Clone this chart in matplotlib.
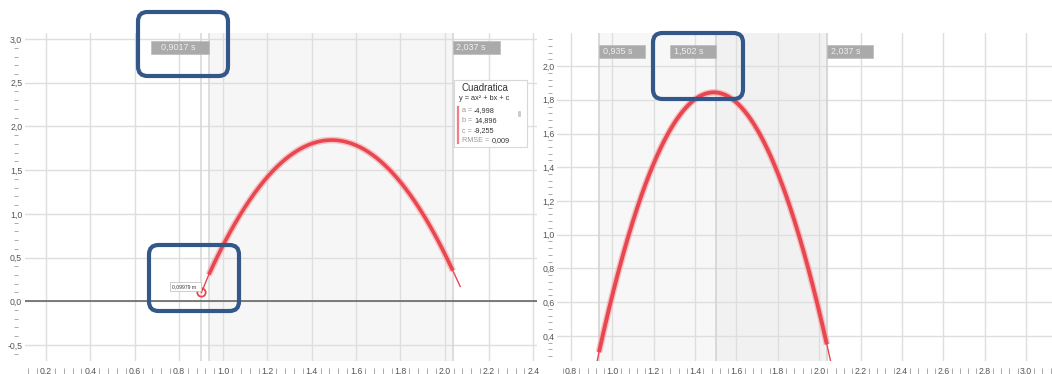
import numpy as np
import matplotlib
matplotlib.use("Agg")
import matplotlib.pyplot as plt
from matplotlib.patches import Rectangle, FancyBboxPatch
import matplotlib.transforms as mtransforms

plt.rcParams['font.family'] = ['Liberation Sans', 'DejaVu Sans']

# ---------------- data ----------------
fit_a = -4.998
fit_b = 14.896
fit_c = -9.255
fit_rmse = 0.009
fit_coeffs = [fit_a, fit_b, fit_c]

t_marker = 0.9017          # s, cursor on left panel
h_marker = 0.09979         # m, value at cursor
t_fit_start = 0.935        # s
t_peak = 1.502             # s
t_fit_end = 2.037          # s
t_data_end = 2.07          # s, last raw sample (read)
h_data_end = 0.17          # m (read)

left_xticks = [0.2, 0.4, 0.6, 0.8, 1.0, 1.2, 1.4, 1.6, 1.8, 2.0, 2.2, 2.4]
left_yticks = [-0.5, 0.0, 0.5, 1.0, 1.5, 2.0, 2.5, 3.0]
right_xticks = [0.8, 1.0, 1.2, 1.4, 1.6, 1.8, 2.0, 2.2, 2.4, 2.6, 2.8, 3.0]
right_yticks = [0.4, 0.6, 0.8, 1.0, 1.2, 1.4, 1.6, 1.8, 2.0]

left_cursor_labels = ["0,9017 s", "2,037 s"]
right_cursor_labels = ["0,935 s", "1,502 s", "2,037 s"]

# ---------------- figure ----------------
W, H = 1052, 374
fig = plt.figure(figsize=(W / 100, H / 100), dpi=100)


def fx(px):
    return px / W


def fy(py):
    return 1 - py / H


GRID = '#dedede'
TXT = '#555555'
RED = '#e9474f'
RED_GLOW = '#f5a0a5'


def fmt(v, nd=1):
    return f"{v:.{nd}f}".replace('.', ',')


def style_axes(ax, xt, yt, ylab_pad, minor_x_step, minor_y_step):
    for s in ax.spines.values():
        s.set_visible(False)
    ax.set_xticks(xt)
    ax.set_yticks(yt)
    ax.set_xticklabels([fmt(v) for v in xt])
    ax.set_yticklabels([fmt(v) for v in yt])
    ax.tick_params(axis='both', length=0, labelsize=6.3, labelcolor=TXT)
    ax.tick_params(axis='x', pad=4)
    ax.tick_params(axis='y', pad=ylab_pad)
    for v in xt:
        ax.axvline(v, color=GRID, lw=1.0, zorder=1)
    for v in yt:
        ax.axhline(v, color=GRID, lw=1.0, zorder=1)
    # minor x marks in label row
    x0, x1 = ax.get_xlim()
    bt = mtransforms.blended_transform_factory(ax.transData, ax.transAxes)
    xs = np.arange(np.ceil(x0 / minor_x_step) * minor_x_step, x1, minor_x_step)
    xs = [v for v in xs if min(abs(v - t) for t in xt) > 1e-6]
    ax.plot(xs, [-0.031] * len(xs), ls='none', marker='|', ms=4.5, mew=0.7,
            color='#a8a8a8', transform=bt, clip_on=False)
    # minor y dashes in label column
    y0, y1 = ax.get_ylim()
    ys = np.arange(np.ceil(y0 / minor_y_step) * minor_y_step, y1, minor_y_step)
    ys = [v for v in ys if min(abs(v - t) for t in yt) > 1e-6]
    return xs, ys


# ---------------- left panel ----------------
axL = fig.add_axes([fx(25), fy(361), fx(537) - fx(25), fy(33) - fy(361)])
axL.set_xlim(0.105, 2.417)
axL.set_ylim(-0.684, 3.069)
axL.set_facecolor('white')
_, ysL = style_axes(axL, left_xticks, left_yticks, 2.0, 0.04, 0.1)
btL = mtransforms.blended_transform_factory(axL.transAxes, axL.transData)
axL.plot([-0.017] * len(ysL), ysL, ls='none', marker='_', ms=3.5, mew=0.7,
         color='#aaaaaa', transform=btL, clip_on=False)

axL.axvspan(t_fit_start, t_fit_end, color='#f6f6f6', zorder=0)
axL.axhline(0, color='#666666', lw=1.2, zorder=2)
for t in (t_marker, t_fit_start, t_fit_end):
    axL.axvline(t, color='#d6d6d6', lw=1.1, zorder=1.5)

xf = np.linspace(t_fit_start, t_fit_end, 300)
yf = np.polyval(fit_coeffs, xf)
axL.plot(xf, yf, color=RED_GLOW, lw=4.8, alpha=0.6, zorder=3, solid_capstyle='butt')
axL.plot(xf, yf, color=RED, lw=2.6, zorder=4, solid_capstyle='butt')
axL.plot([t_marker, xf[0]], [h_marker, yf[0]], color=RED, lw=1.0, zorder=4)
axL.plot([xf[-1], t_data_end], [yf[-1], h_data_end], color=RED, lw=1.0, zorder=4)
axL.plot([t_marker], [h_marker], marker='o', ms=6, mfc='none', mec=RED, mew=1.3, zorder=5)

# cursor label boxes (left)
btL2 = mtransforms.blended_transform_factory(axL.transData, axL.transAxes)
pxL = 221.5
boxh = 13 / 328
axL.add_patch(Rectangle((t_fit_start - 58 / pxL, 1 - 21 / 328), 58 / pxL, boxh,
                        transform=btL2, facecolor='#aaaaaa', edgecolor='#bbbbbb',
                        lw=0.5, zorder=6, clip_on=False))
axL.text(t_fit_start - 48 / pxL, 1 - 14.5 / 328, left_cursor_labels[0], transform=btL2,
         fontsize=6.5, color='#eeeeee', va='center', ha='left', zorder=7)
axL.add_patch(Rectangle((t_fit_end, 1 - 21 / 328), 47 / pxL, boxh,
                        transform=btL2, facecolor='#aaaaaa', edgecolor='#bbbbbb',
                        lw=0.5, zorder=6, clip_on=False))
axL.text(t_fit_end + 3 / pxL, 1 - 14.5 / 328, left_cursor_labels[1], transform=btL2,
         fontsize=6.5, color='#eeeeee', va='center', ha='left', zorder=7)

# marker value label
fig.patches.append(Rectangle((fx(170), fy(291)), fx(201) - fx(170), fy(282) - fy(291),
                             transform=fig.transFigure, facecolor='white',
                             edgecolor='#bbbbbb', lw=0.5, zorder=8))
fig.text(fx(172), fy(286.5), f"{h_marker:.5f} m".replace('.', ','), fontsize=3.6,
         color='#333333', va='center', ha='left', zorder=9)

# ---------------- legend box (left) ----------------
fig.patches.append(Rectangle((fx(454), fy(147)), fx(527) - fx(454), fy(80) - fy(147),
                             transform=fig.transFigure, facecolor='white',
                             edgecolor='#d8d8d8', lw=0.8, zorder=8))
fig.text(fx(461), fy(88), "Cuadratica", fontsize=7.0, color='#333333',
         va='center', ha='left', zorder=9)
fig.text(fx(459), fy(98.5), "y = ax² + bx + c", fontsize=5.3, color='#333333',
         va='center', ha='left', zorder=9)
fig.lines.append(plt.Line2D([fx(458), fx(458)], [fy(107), fy(143)], color='#ef7f86',
                            lw=1.6, transform=fig.transFigure, zorder=9))
rows = [("a = ", fmt(fit_a, 3)), ("b = ", fmt(fit_b, 3)), ("c = ", fmt(fit_c, 3)),
        ("RMSE = ", fmt(fit_rmse, 3))]
row_y = [111, 121, 131, 141]
row_vx = [474, 474, 474, 492]
for (lab, val), yy, vx in zip(rows, row_y, row_vx):
    fig.text(fx(462), fy(yy), lab, fontsize=5.2, color='#999999', va='center',
             ha='left', zorder=9)
    fig.text(fx(vx), fy(yy), val, fontsize=5.2, color='#333333', va='center',
             ha='left', zorder=9)
fig.patches.append(FancyBboxPatch((fx(518), fy(117)), fx(3), fy(111) - fy(117),
                                  boxstyle="round,pad=0,rounding_size=0.002",
                                  transform=fig.transFigure, facecolor='#cccccc',
                                  edgecolor='none', zorder=9))

# ---------------- right panel ----------------
axR = fig.add_axes([fx(557), fy(361), fx(1052) - fx(557), fy(33) - fy(361)])
axR.set_xlim(0.732, 3.126)
axR.set_ylim(0.251, 2.196)
_, ysR = style_axes(axR, right_xticks, right_yticks, 1.5, 0.04, 0.04)
btR = mtransforms.blended_transform_factory(axR.transAxes, axR.transData)
axR.plot([-0.014] * len(ysR), ysR, ls='none', marker='_', ms=3.5, mew=0.7,
         color='#aaaaaa', transform=btR, clip_on=False)

axR.axvspan(t_fit_start, t_peak, color='#f7f7f7', zorder=0)
axR.axvspan(t_peak, t_fit_end, color='#f1f1f1', zorder=0)
for t in (t_fit_start, t_peak, t_fit_end):
    axR.axvline(t, color='#d4d4d4', lw=1.2, zorder=1.5)

xr = np.linspace(t_fit_start, t_fit_end, 300)
yr = np.polyval(fit_coeffs, xr)
axR.plot(xr, yr, color=RED_GLOW, lw=4.8, alpha=0.6, zorder=3, solid_capstyle='butt')
axR.plot(xr, yr, color=RED, lw=2.8, zorder=4, solid_capstyle='butt')
axR.plot([t_marker, xr[0]], [h_marker, yr[0]], color=RED, lw=1.0, zorder=4)
axR.plot([xr[-1], t_data_end], [yr[-1], h_data_end], color=RED, lw=1.0, zorder=4)

btR2 = mtransforms.blended_transform_factory(axR.transData, axR.transAxes)
pxR = 206.8
for t, lab, align in [(t_fit_start, right_cursor_labels[0], 'left'),
                      (t_peak, right_cursor_labels[1], 'right'),
                      (t_fit_end, right_cursor_labels[2], 'left')]:
    x0 = t if align == 'left' else t - 46 / pxR
    axR.add_patch(Rectangle((x0, 1 - 25 / 328), 46 / pxR, 13 / 328, transform=btR2,
                            facecolor='#aaaaaa', edgecolor='#bbbbbb', lw=0.5,
                            zorder=6, clip_on=False))
    axR.text(x0 + 4 / pxR, 1 - 18.5 / 328, lab, transform=btR2, fontsize=6.5,
             color='#eeeeee', va='center', ha='left', zorder=7)

# ---------------- highlight boxes ----------------
for (x0, y0, x1, y1) in [(138, 12, 228, 76), (149, 245, 239, 311), (653, 33, 743, 99)]:
    fig.patches.append(FancyBboxPatch((fx(x0), fy(y1)), fx(x1) - fx(x0), fy(y0) - fy(y1),
                                      boxstyle="round,pad=0,rounding_size=0.009",
                                      mutation_aspect=W / H,
                                      transform=fig.transFigure, facecolor='none',
                                      edgecolor='#34578a', lw=3.0, zorder=20))

fig.savefig("out.png", dpi=100)
